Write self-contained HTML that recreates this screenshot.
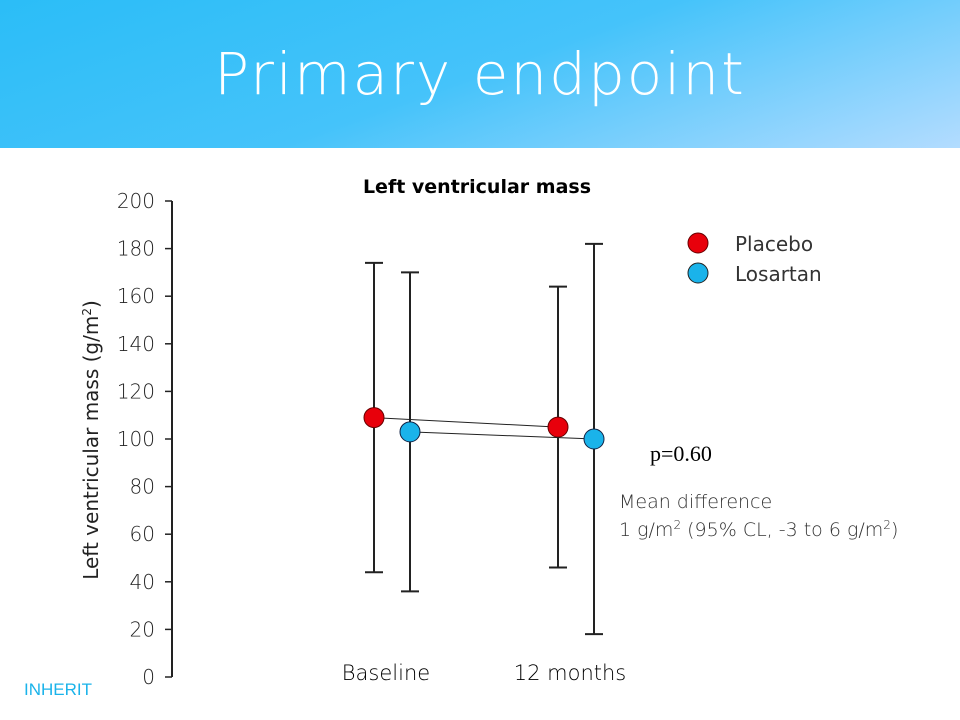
<!DOCTYPE html>
<html><head><meta charset="utf-8"><style>
body{margin:0;width:960px;height:720px;overflow:hidden;background:#fff;font-family:"Liberation Sans",sans-serif;}
#hdr{position:absolute;left:0;top:0;width:960px;height:148px;background:linear-gradient(160deg,#2bbdf7 0%,#45c3fa 50%,#b3dcff 100%);}
#ttl{position:absolute;left:0;width:960px;top:40px;text-align:center;color:#fff;font-size:58px;letter-spacing:2px;font-family:"DejaVu Sans",sans-serif;font-weight:200;}
</style></head><body>
<div id="hdr"><div id="ttl">Primary endpoint</div></div>
<svg id="chart" width="960" height="720" style="position:absolute;left:0;top:0">
<text x="477" y="193" text-anchor="middle" font-size="19" font-weight="bold" font-family="DejaVu Sans,sans-serif">Left ventricular mass</text>
<text transform="translate(98,440) rotate(-90)" text-anchor="middle" font-size="20" fill="#222" font-family="DejaVu Sans,sans-serif">Left ventricular mass (g/m<tspan dy="-7" font-size="12">2</tspan><tspan dy="7">)</tspan></text>
<g id="axis"></g><g id="marks"></g>
<circle cx="698" cy="243" r="10" fill="#e8000b" stroke="#600"/>
<circle cx="698" cy="273" r="10" fill="#1ab3ea" stroke="#222"/>
<text x="735" y="251" font-size="20" fill="#333" font-family="DejaVu Sans,sans-serif">Placebo</text>
<text x="735" y="281" font-size="20" fill="#333" font-family="DejaVu Sans,sans-serif">Losartan</text>
<text x="650" y="461" font-size="22" font-family="Liberation Serif,serif">p=0.60</text>
<text x="619" y="508" font-size="19" fill="#333" font-family="DejaVu Sans,sans-serif" font-weight="200">Mean difference</text>
<text x="619" y="536" font-size="19" fill="#333" font-family="DejaVu Sans,sans-serif" font-weight="200">1 g/m<tspan dy="-7" font-size="12">2</tspan><tspan dy="7"> (95% CL, -3 to 6 g/m</tspan><tspan dy="-7" font-size="12">2</tspan><tspan dy="7">)</tspan></text>
<text x="24" y="695" font-size="17" fill="#1ab3ea">INHERIT</text>
</svg>
<script>
const categories=["Baseline","12 months"];
const placeboMean=[109,105], placeboLow=[44,46], placeboHigh=[174,164];
const losartanMean=[103,100], losartanLow=[36,18], losartanHigh=[170,182];
const yTicks=[0,20,40,60,80,100,120,140,160,180,200];
const NS="http://www.w3.org/2000/svg";
const y=v=>677-v*(677-201)/200;
const catX=[392,576];
const off={placebo:-18,losartan:18};
function mk(p,t,a){const e=document.createElementNS(NS,t);for(const k in a)e.setAttribute(k,a[k]);p.appendChild(e);return e;}
const ax=document.getElementById('axis'),mg=document.getElementById('marks');
const al=mk(ax,'line',{x1:172,x2:172,y1:y(200),y2:y(0),stroke:'#222','stroke-width':2});


yTicks.forEach(v=>{
 const t=mk(ax,'line',{x1:165,x2:172,y1:y(v),y2:y(v),stroke:'#222','stroke-width':1.5});
 
 
 const l=mk(ax,'text',{x:155,y:y(v)+7,'text-anchor':'end','font-size':20,fill:'#222','font-family':'DejaVu Sans,sans-serif','font-weight':'200'});l.textContent=v;
 
 
});
categories.forEach((c,i)=>{
 const l=mk(ax,'text',{x:catX[i]-6,y:680,'text-anchor':'middle','font-size':21,'font-family':'DejaVu Sans,sans-serif','font-weight':'200',fill:'#000'});l.textContent=c;
 
 
});
function series(name,mean,lo,hi,fill,stroke){
 const xs=catX.map(x=>x+off[name]);
 const pts=xs.map((x,i)=>x+','+y(mean[i])).join(' ');
 const pl=mk(mg,'polyline',{points:pts,fill:'none',stroke:'#222','stroke-width':1});
 
 
 xs.forEach((x,i)=>{
  const g=mk(mg,'g',{stroke:'#222','stroke-width':2});
  
  
  mk(g,'line',{x1:x,x2:x,y1:y(lo[i]),y2:y(hi[i])});
  mk(g,'line',{x1:x-9,x2:x+9,y1:y(lo[i]),y2:y(lo[i])});
  mk(g,'line',{x1:x-9,x2:x+9,y1:y(hi[i]),y2:y(hi[i])});
 });
 xs.forEach((x,i)=>{
  const c=mk(mg,'circle',{cx:x,cy:y(mean[i]),r:10,fill:fill,stroke:stroke,'stroke-width':1});
  
  
 });
}
series('placebo',placeboMean,placeboLow,placeboHigh,'#e8000b','#600');
series('losartan',losartanMean,losartanLow,losartanHigh,'#1ab3ea','#124');
</script>
</body></html>
